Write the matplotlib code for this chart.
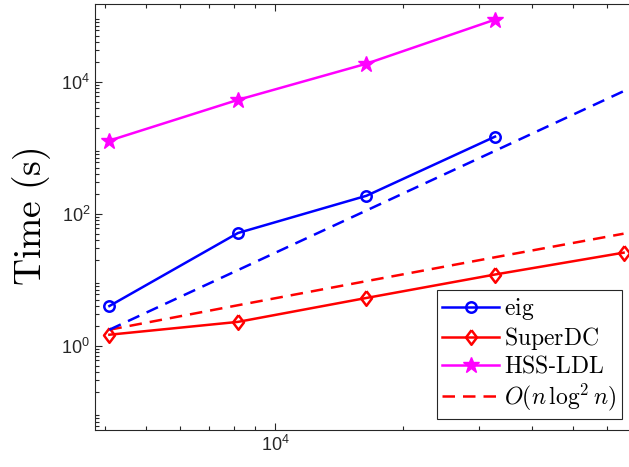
import numpy as np
import matplotlib
matplotlib.use("Agg")
import matplotlib.pyplot as plt

plt.rcParams['font.family'] = ['Liberation Sans', 'DejaVu Sans']
plt.rcParams['mathtext.fontset'] = 'custom'
plt.rcParams['mathtext.rm'] = 'Liberation Sans'
plt.rcParams['mathtext.it'] = 'Liberation Sans:italic'
plt.rcParams['mathtext.bf'] = 'Liberation Sans:bold'

# matrix sizes
n = [4096, 8192, 16384, 32768, 65536]

# timings (s)
t_eig = [4.0, 51, 187, 1470]
t_superdc = [1.47, 2.3, 5.3, 12.0, 25.7]
t_hss = [1280, 5300, 18700, 87000]

# reference slopes
ref_n3 = [1.75, 14, 112, 896, 7168]
ref_nlog2n = [1.75, 4.11, 9.53, 21.9, 49.8]

grey = '#262626'
diamond = [(0, 1), (0.75, 0), (0, -1), (-0.75, 0), (0, 1)]

fig = plt.figure(figsize=(6.29, 4.67), dpi=100)
ax = fig.add_axes([95/629, 37/467, 546/629, 426/467])

lw = 1.8
ax.plot(n[:4], t_eig, '-o', color='b', lw=lw, ms=7.5, mfc='none', mew=1.8, label=r'$\mathrm{eig}$')
ax.plot(n, t_superdc, '-', marker=diamond, color='r', lw=lw, ms=10.5, mfc='none', mew=1.8,
        label=r'$\mathrm{SuperDC}$')
ax.plot(n[:4], t_hss, '-*', color='#ff00ff', lw=lw, ms=12, label=r'$\mathrm{HSS}$-$\mathrm{LDL}$')
ax.plot(n, ref_nlog2n, color='r', lw=lw, ls=(0, (5, 3.2)), label=r'$O(n\,\log^2 n)$')
ax.plot(n, ref_n3, color='b', lw=lw, ls=(0, (5, 3.2)))

ax.set_xscale('log')
ax.set_yscale('log')
ax.set_xlim(3790, 72000)
ax.set_ylim(0.053, 1.5e5)
ax.set_yticks([1e0, 1e2, 1e4])
ax.set_xticks([1e4])

ax.tick_params(which='both', direction='in', top=True, right=True, colors=grey,
               labelcolor=grey, width=0.8)
ax.tick_params(which='major', length=5, labelsize=13)
ax.tick_params(which='minor', length=3)
for s in ax.spines.values():
    s.set_color(grey)
    s.set_linewidth(0.8)

ax.set_ylabel(r'$\mathrm{Time\ (s)}$', fontsize=27, math_fontfamily='cm')
ax.yaxis.set_label_coords(-0.077, 0.5)

leg = ax.legend(loc='upper right', bbox_to_anchor=(622/629, 1 - 290/467),
                bbox_transform=fig.transFigure, borderaxespad=0,
                fontsize=17, fancybox=False, framealpha=1, edgecolor=grey,
                handlelength=2.4, handletextpad=0.2, labelspacing=0.15,
                borderpad=0.25)
leg.get_frame().set_linewidth(0.8)
for t in leg.get_texts():
    t.set_math_fontfamily('cm')

fig.savefig('out.png', dpi=100)
